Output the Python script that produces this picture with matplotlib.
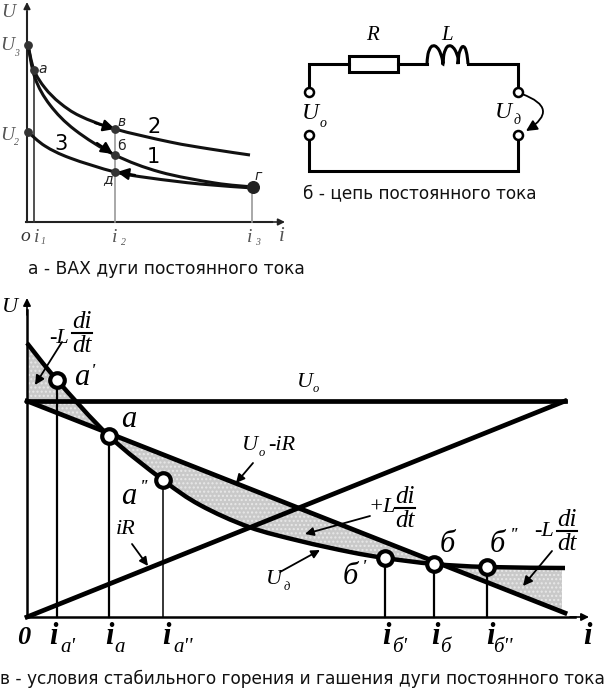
import matplotlib
matplotlib.use('Agg')
import matplotlib.pyplot as plt
import numpy as np
from matplotlib.patches import PathPatch, Rectangle
from matplotlib.path import Path

SERIF = 'Liberation Serif'
SANS = 'DejaVu Sans'

# panel a - volt-ampere curves (pixels)
curve1_x = [28, 35, 50, 75, 115, 160, 215, 253]
curve1_y = [45, 78, 105, 130, 155, 172, 183, 187]
curve2_x = [28, 34, 45, 60, 80, 115, 170, 210, 250]
curve2_y = [45, 70, 88, 103, 116, 129, 142, 149, 155]
curve3_x = [28, 45, 70, 115, 150, 200, 253]
curve3_y = [132, 146, 158, 172, 178, 184, 188]
a_points_x = [28, 34, 28, 115, 115, 115]
a_points_y = [45, 70, 132, 129, 155, 172]
a_drops_x = [34, 115, 252]
a_drops_y = [70, 129, 187]

# panel b - circuit
wire_top_x = [309, 309, 349]
wire_top_y = [92, 64, 64]
wire_mid_x = [398, 427]
wire_mid_y = [64, 64]
wire_right_x = [468, 518, 518]
wire_right_y = [64, 64, 92]
wire_bottom_x = [309, 309, 518, 518]
wire_bottom_y = [135, 171, 171, 135]
coil_x = [427, 428, 431, 435, 439, 442, 443, 444, 447, 451, 455, 458, 458, 459, 462, 465, 467, 468]
coil_y = [64, 54, 47, 46, 50, 58, 64, 54, 47, 46, 50, 58, 64, 54, 47, 48, 55, 64]
terminal_x = [309, 309, 518, 518]
terminal_y = [92, 135, 92, 135]

# panel c - stability of the arc
line_x = [27, 565]
uo_y = [401, 401]
uo_ir_y = [401, 613]
ir_y = [617, 401]
arc_x = [27, 57, 109, 163, 200, 249, 300, 350, 385, 434, 487, 565]
arc_y = [343, 380, 436, 480, 505, 527, 541, 552, 558, 564, 567, 568]
c_points_x = [57, 109, 163, 385, 434, 487]
c_points_y = [380, 436, 480, 558, 564, 567]
c_drop_widths = [1.6, 1.6, 1.1, 1.6, 1.6, 1.6]

fig = plt.figure(figsize=(6.16, 6.91), dpi=100)
ax = fig.add_axes([0, 0, 1, 1])
ax.set_xlim(0, 616)
ax.set_ylim(691, 0)
ax.axis('off')


def label(x, y, s, size=12, color='black', weight='normal', style='italic', family=SERIF):
    ax.text(x, y, s, fontsize=size, color=color, fontweight=weight, fontstyle=style,
            family=family, ha='center', va='center')


def arrow(x0, y0, x1, y1, lw=1.5, head=9, rad=0.0, color='black', style='-|>'):
    ax.annotate('', xy=(x1, y1), xytext=(x0, y0),
                arrowprops=dict(arrowstyle=f'{style},head_length={head / 20},head_width={head / 40}',
                                lw=lw, color=color, shrinkA=0, shrinkB=0,
                                connectionstyle=f'arc3,rad={rad}'))


def smooth_line(xs, ys, lw, color='black', zorder=3):
    # bezier segments through the read points so the curve has no corners
    pts = np.column_stack([xs, ys]).astype(float)
    verts = [pts[0]]
    codes = [Path.MOVETO]
    for i in range(len(pts) - 1):
        before = pts[max(i - 1, 0)]
        after = pts[min(i + 2, len(pts) - 1)]
        verts += [pts[i] + (pts[i + 1] - before) / 6, pts[i + 1] - (after - pts[i]) / 6, pts[i + 1]]
        codes += [Path.CURVE4] * 3
    ax.add_patch(PathPatch(Path(verts, codes), fill=False, edgecolor=color, lw=lw, zorder=zorder))


def fraction(x, y, sign_text, sign_dy=3, size=18):
    # L di/dt written as separate pieces, x, y is the middle of the bar
    label(x - 23, y + sign_dy, sign_text, size=16)
    label(x, y - 11, 'di', size=size)
    ax.plot([x - 10, x + 10], [y, y], color='black', lw=1.5)
    label(x, y + 13, 'dt', size=size)


# panel a
grey = '#555555'
ax.plot([27, 27], [222, 12], color='#222222', lw=1.5)
ax.plot([26, 272], [222, 222], color='#222222', lw=1.5)
arrow(27, 20, 27, 2, lw=1.2, head=8, color='#222222')
arrow(265, 222, 285, 222, lw=1.2, head=8, color='#222222')
ax.plot([a_drops_x[0]] * 2, [a_drops_y[0], 222], color='#333333', lw=1.2)
ax.plot([a_drops_x[1]] * 2, [a_drops_y[1], 222], color='#999999', lw=1.2)
ax.plot([a_drops_x[2]] * 2, [a_drops_y[2], 222], color='#999999', lw=1.2)
smooth_line(curve1_x, curve1_y, 2.2, color='#111111')
smooth_line(curve2_x, curve2_y, 2.2, color='#111111')
smooth_line(curve3_x, curve3_y, 2.2, color='#111111')
ax.scatter(a_points_x, a_points_y, s=28, color='#333333', zorder=4)
ax.scatter([253], [187], s=70, color='#222222', zorder=4)
arrow(95, 123, 115, 129, lw=1.6, head=14)
arrow(97, 143, 113, 154, lw=1.6, head=14)
arrow(135, 175, 117, 172, lw=1.6, head=14)

label(8, 12, 'U', size=14, color=grey)
label(7, 45, 'U', size=14, color=grey)
label(16, 53, '3', size=7, color=grey)
label(7, 135, 'U', size=14, color=grey)
label(16, 142, '2', size=7, color=grey)
label(43, 69, 'а', size=10, color='#222222', style='italic', family=SANS)
label(122, 122, 'в', size=10, color='#222222', style='italic', family=SANS)
label(121, 146, 'б', size=10, color='#222222', style='normal', family=SANS)
label(108, 179, 'д', size=10, color='#222222', style='italic', family=SANS)
label(258, 176, 'г', size=10, color='#222222', style='italic', family=SANS)
label(154, 127, '2', size=15, style='normal', family=SANS)
label(153, 157, '1', size=15, style='normal', family=SANS)
label(61, 144, '3', size=15, style='normal', family=SANS)
label(25, 236, 'o', size=14, color='#333333')
label(37, 237, 'i', size=14, color=grey)
label(43, 241, '1', size=7, color=grey)
label(115, 237, 'i', size=14, color=grey)
label(123, 242, '2', size=7, color=grey)
label(250, 237, 'i', size=14, color=grey)
label(257, 242, '3', size=7, color=grey)
label(282, 236, 'i', size=15, color=grey)
ax.text(28, 269, 'а - ВАХ дуги постоянного тока', fontsize=12.3, family=SANS, va='center', color='#111111')

# panel b
for xs, ys in [(wire_top_x, wire_top_y), (wire_mid_x, wire_mid_y),
               (wire_right_x, wire_right_y), (wire_bottom_x, wire_bottom_y)]:
    ax.plot(xs, ys, color='black', lw=2.2, solid_joinstyle='miter')
ax.add_patch(Rectangle((349, 56), 49, 16, fill=False, edgecolor='black', lw=2.2))
smooth_line(coil_x, coil_y, 2.2)
ax.scatter(terminal_x, terminal_y, s=42, facecolor='white', edgecolor='black', linewidth=1.8, zorder=4)
arrow(522, 94, 526, 131, lw=1.3, head=13, rad=-1.0)
label(372, 35, 'R', size=15)
label(447, 35, 'L', size=15)
label(310, 113, 'U', size=17)
label(323, 123, 'o', size=10)
label(503, 112, 'U', size=17)
label(517, 120, 'д', size=10)
ax.text(303, 193, 'б - цепь постоянного тока', fontsize=12.2, family=SANS, va='center', color='#111111')

# panel c
shade_x = np.arange(27, 563)
line_top = np.interp(shade_x, line_x, uo_ir_y)
arc_top = np.interp(shade_x, arc_x, arc_y)
ax.fill_between(shade_x, line_top, arc_top, facecolor='#c9c9c9', edgecolor='#e8e8e8',
                hatch='....', lw=0, zorder=1)

ax.plot([27, 27], [617, 310], color='black', lw=1.8, zorder=3)
ax.plot([26, 575], [617, 617], color='black', lw=1.8, zorder=3)
arrow(27, 315, 27, 298, lw=1.2, head=9)
arrow(570, 617, 589, 617, lw=1.2, head=9)
for px, py, w in zip(c_points_x, c_points_y, c_drop_widths):
    ax.plot([px, px], [py, 617], color='black', lw=w, zorder=2)
ax.plot(line_x, uo_y, color='black', lw=3.4, zorder=3)
ax.plot(line_x, uo_ir_y, color='black', lw=3.4, zorder=3)
ax.plot(line_x, ir_y, color='black', lw=3.4, zorder=3)
smooth_line(arc_x, arc_y, 3.2)
ax.scatter(c_points_x, c_points_y, s=110, facecolor='white', edgecolor='black', linewidth=3, zorder=5)

label(10, 307, 'U', size=16)
fraction(82, 333, '-L', sign_dy=5)
arrow(62, 342, 35, 385, lw=1.3, head=11)
label(82, 377, 'a', size=22)
label(93, 372, "'", size=14)
label(129, 419, 'a', size=22)
label(129, 496, 'a', size=22)
label(144, 488, "''", size=14)
label(305, 382, 'U', size=16)
label(316, 389, 'o', size=9)
label(250, 445, 'U', size=16)
label(262, 453, 'o', size=9)
label(282, 445, '-iR', size=16)
arrow(253, 463, 236, 483, lw=1.3, head=10)
label(126, 530, 'iR', size=16)
arrow(132, 544, 148, 566, lw=1.3, head=10)
label(274, 580, 'U', size=16)
label(287, 587, 'д', size=9)
arrow(280, 572, 320, 550, lw=1.3, head=10)
fraction(405, 508, '+L', sign_dy=-1)
arrow(370, 516, 305, 534, lw=1.3, head=10)
label(350, 577, 'б', size=22)
label(364, 568, "'", size=14)
label(447, 545, 'б', size=22)
label(497, 545, 'б', size=22)
label(514, 537, "''", size=14)
fraction(567, 531, '-L', sign_dy=1)
arrow(552, 551, 523, 586, lw=1.3, head=11)

label(24, 637, '0', size=19, weight='bold')
for x0, x1, sub in [(53, 68, "a'"), (109, 120, 'a'), (166, 183, "a''"),
                    (386, 400, "б'"), (435, 445, 'б'), (490, 503, "б''")]:
    label(x0, 637, 'i', size=22, weight='bold')
    label(x1, 648, sub, size=15)
label(587, 637, 'i', size=22, weight='bold')
ax.text(0, 679, 'в - условия стабильного горения и гашения дуги постоянного тока',
        fontsize=12.25, family=SANS, va='center', color='#111111')

fig.savefig('out.png', dpi=100, facecolor='white')
